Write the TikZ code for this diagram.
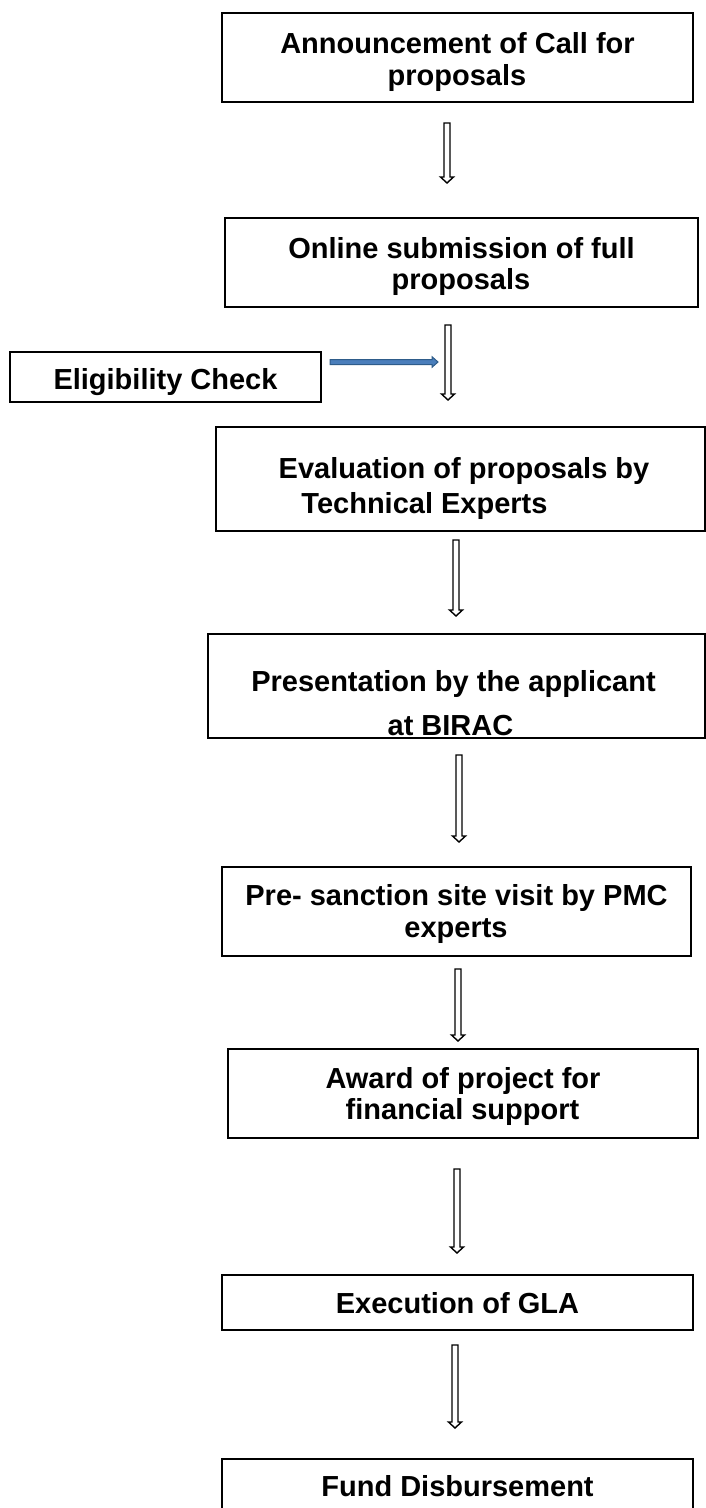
\documentclass[tikz,border=0pt]{standalone}
\usepackage{fontspec}
\setmainfont{Liberation Sans}
\usetikzlibrary{calc}
\definecolor{bluefill}{HTML}{4A7EBB}
\definecolor{blueline}{HTML}{2E5C8A}
\tikzset{
  box/.style={draw=black, line width=1.8pt, rectangle, inner sep=0pt, fill=none},
  txt/.style={anchor=base, inner sep=0pt, font=\fontsize{29}{33}\selectfont\bfseries},
  harrow/.style={draw=black, line width=1.4pt, fill=white, line join=miter},
  barrow/.style={draw=blueline, line width=1pt, fill=bluefill, line join=miter}
}
\newcommand\hdown[2]{\draw[harrow] let \p1=(#1), \p2=(#2) in
  (\x1-3pt,\y1) -- (\x1+3pt,\y1) -- (\x1+3pt,\y2+6pt) -- (\x1+6.5pt,\y2+6pt) --
  (\x1,\y2) -- (\x1-6.5pt,\y2+6pt) -- (\x1-3pt,\y2+6pt) -- cycle;}
\newcommand\bright[2]{\draw[barrow] let \p1=(#1), \p2=(#2) in
  (\x1,\y1+2.5pt) -- (\x2-6pt,\y1+2.5pt) -- (\x2-6pt,\y1+5.3pt) -- (\x2,\y1) --
  (\x2-6pt,\y1-5.3pt) -- (\x2-6pt,\y1-2.5pt) -- (\x1,\y1-2.5pt) -- cycle;}
\begin{document}
\begin{tikzpicture}[x=1pt,y=-1pt]
\useasboundingbox (0,0) rectangle (706,1508);
\clip (0,0) rectangle (706,1508);
\fill[white] (0,0) rectangle (706,1508);
% boxes
\node[box, minimum width=471, minimum height=89] (b1) at (457.5,57.5) {};
\node[box, minimum width=473, minimum height=89] (b2) at (461.5,262.5) {};
\node[box, minimum width=311, minimum height=50] (be) at (165.5,377) {};
\node[box, minimum width=489, minimum height=104] (b3) at (460.5,479) {};
\node[box, minimum width=497, minimum height=104] (b4) at (456.5,686) {};
\node[box, minimum width=469, minimum height=89] (b5) at (456.5,911.5) {};
\node[box, minimum width=470, minimum height=89] (b6) at (463,1093.5) {};
\node[box, minimum width=471, minimum height=55] (b7) at (457.5,1302.5) {};
\node[box, minimum width=471, minimum height=81] (b8) at (457.5,1499.5) {};
% texts
\node[txt] (t1a) at (457.5,53) {Announcement of Call for};
\node[txt] (t1b) at (457,85) {proposals};
\node[txt] (t2a) at (461.5,258) {Online submission of full};
\node[txt] (t2b) at (461,289) {proposals};
\node[txt] (tea) at (165.5,389) {Eligibility Check};
\node[txt] (t3a) at (464,478) {Evaluation of proposals by};
\node[txt] (t3b) at (424.5,513) {Technical Experts};
\node[txt] (t4a) at (453.5,691) {Presentation by the applicant};
\node[txt] (t4b) at (450.5,735) {at BIRAC};
\node[txt] (t5a) at (456.5,905) {Pre- sanction site visit by PMC};
\node[txt] (t5b) at (456,937) {experts};
\node[txt] (t6a) at (463,1088) {Award of project for};
\node[txt] (t6b) at (462.5,1119) {financial support};
\node[txt] (t7a) at (457.5,1313) {Execution of GLA};
\node[txt] (t8a) at (457.5,1496) {Fund Disbursement};
% arrow end points
\coordinate (a1s) at (447,123);  \coordinate (a1e) at (447,183);
\coordinate (a2s) at (448,325);  \coordinate (a2e) at (448,400);
\coordinate (a3s) at (456,540);  \coordinate (a3e) at (456,616);
\coordinate (a4s) at (459,755);  \coordinate (a4e) at (459,842);
\coordinate (a5s) at (458,969);  \coordinate (a5e) at (458,1041);
\coordinate (a6s) at (457,1169); \coordinate (a6e) at (457,1253);
\coordinate (a7s) at (455,1345); \coordinate (a7e) at (455,1428);
\coordinate (bas) at (330,362);  \coordinate (bae) at (438,362);
\hdown{a1s}{a1e}
\hdown{a2s}{a2e}
\hdown{a3s}{a3e}
\hdown{a4s}{a4e}
\hdown{a5s}{a5e}
\hdown{a6s}{a6e}
\hdown{a7s}{a7e}
\bright{bas}{bae}
\end{tikzpicture}
\end{document}
